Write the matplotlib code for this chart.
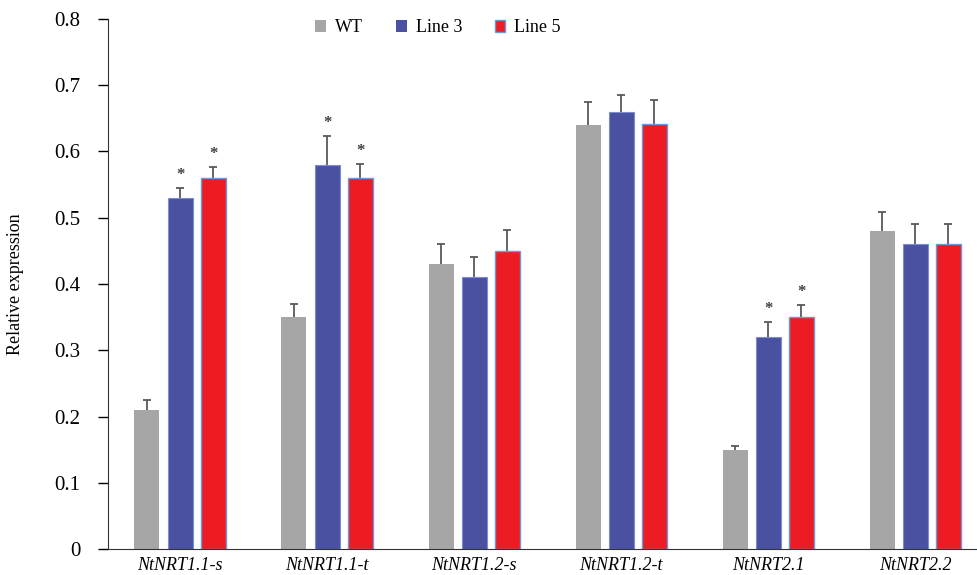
import matplotlib.pyplot as plt
import numpy as np
from matplotlib.patches import Patch

genes = ["NtNRT1.1-s", "NtNRT1.1-t", "NtNRT1.2-s", "NtNRT1.2-t", "NtNRT2.1", "NtNRT2.2"]
wt = [0.21, 0.35, 0.43, 0.64, 0.15, 0.48]
wt_err = [0.015, 0.02, 0.03, 0.035, 0.006, 0.028]
line3 = [0.53, 0.58, 0.41, 0.66, 0.32, 0.46]
line3_err = [0.015, 0.044, 0.03, 0.026, 0.023, 0.03]
line5 = [0.56, 0.56, 0.45, 0.642, 0.35, 0.46]
line5_err = [0.017, 0.021, 0.031, 0.036, 0.019, 0.03]
# significance marks (1 = asterisk)
sig3 = [1, 1, 0, 0, 1, 0]
sig5 = [1, 1, 0, 0, 1, 0]

plt.rcParams['font.family'] = ['Liberation Serif', 'DejaVu Serif']

fig = plt.figure(figsize=(9.77, 5.75), dpi=100)
ax = fig.add_axes([0.1105, 0.0452, 0.8895, 0.9218])

x = np.arange(len(genes))
w = 0.17
step = 0.225
cap = 0.028
ecol = '#595959'

def upper_err(xs, vals, errs):
    # only the upper half of the error bar, as in the original
    tops = np.array(vals) + np.array(errs)
    ax.vlines(xs, vals, tops, color=ecol, lw=1.3, zorder=1)
    ax.hlines(tops, xs - cap, xs + cap, color=ecol, lw=1.3, zorder=1)

upper_err(x - step, wt, wt_err)
upper_err(x, line3, line3_err)
upper_err(x + step, line5, line5_err)

ax.bar(x - step, wt, w, color='#A6A6A6', label='WT', zorder=2)
ax.bar(x, line3, w, color='#4B51A1', edgecolor='#7B8FD0', linewidth=0.8, label='Line 3', zorder=2)
ax.bar(x + step, line5, w, color='#ED1C24', edgecolor='#6A9BD8', linewidth=1.0, label='Line 5', zorder=2)

for i in range(len(genes)):
    if sig3[i]:
        ax.text(x[i], line3[i] + line3_err[i] + 0.019, '*', ha='center', va='center',
                fontsize=12, color='#404040', fontweight='bold')
    if sig5[i]:
        ax.text(x[i] + step, line5[i] + line5_err[i] + 0.019, '*', ha='center', va='center',
                fontsize=12, color='#404040', fontweight='bold')

ax.set_xlim(-0.49, 5.42)
ax.set_ylim(0, 0.8)
ax.set_yticks(np.arange(0, 0.81, 0.1))
ax.set_yticklabels(['0'] + ['%.1f' % v for v in np.arange(0.1, 0.81, 0.1)], fontsize=15)
ax.set_xticks(x)
ax.set_xticklabels(genes, fontstyle='italic', fontsize=13)
ax.tick_params(axis='x', length=0, pad=6)
ax.tick_params(axis='y', direction='out', length=7, width=1, pad=13)
ax.set_ylabel('Relative expression', fontsize=13, labelpad=22)

ax.spines['top'].set_visible(False)
ax.spines['right'].set_visible(False)
ax.spines['left'].set_color('#333333')
ax.spines['bottom'].set_color('#333333')

handles = [Patch(facecolor='#A6A6A6', label='WT'),
           Patch(facecolor='#4B51A1', label='Line 3'),
           Patch(facecolor='#ED1C24', edgecolor='#6A9BD8', label='Line 5')]
ax.legend(handles=handles, loc='center', bbox_to_anchor=(0.38, 0.983), ncol=3, frameon=False,
          fontsize=13, handlelength=0.6, handleheight=0.6, handletextpad=0.5, columnspacing=1.8)

fig.savefig('out.png', dpi=100)
